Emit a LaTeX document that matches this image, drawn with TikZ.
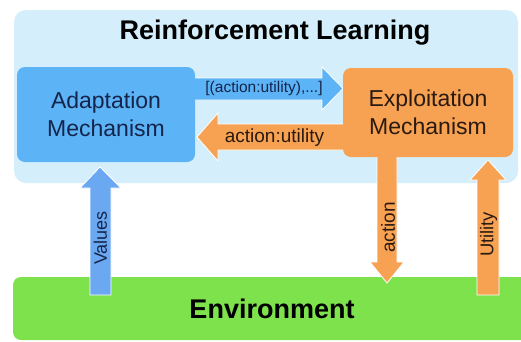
\documentclass[tikz,border=0pt]{standalone}
\usepackage{fontspec}
\setmainfont{Liberation Sans}
\usetikzlibrary{calc}
\definecolor{rlbg}{HTML}{D4EFFB}
\definecolor{adblue}{HTML}{5CB3F6}
\definecolor{valblue}{HTML}{6AA8F2}
\definecolor{exorange}{HTML}{F7A152}
\definecolor{envgreen}{HTML}{7DE24C}
\definecolor{navy}{HTML}{15244A}
\definecolor{darktxt}{HTML}{2A1A10}
\tikzset{
  box/.style={rounded corners=8pt, inner sep=0pt, align=center},
  blockarrow/.style={draw=white, line width=0.8pt, line join=miter},
  lbl/.style={inner sep=0pt},
}
\begin{document}
\begin{tikzpicture}[x=1pt,y=-1pt]
\useasboundingbox (0,0) rectangle (521,341);
\clip (0,0) rectangle (521,341);
\fill[white] (0,0) rectangle (521,341);
% Reinforcement learning background
\node[box, rounded corners=12pt, fill=rlbg, minimum width=504pt, minimum height=173pt] (rl) at (266,96.5) {};
\node[lbl, font=\fontsize{27}{30}\selectfont\bfseries, text=black] (title) at (275,33) {Reinforcement Learning};
% Environment
\node[box, fill=envgreen, minimum width=517pt, minimum height=63pt] (env) at (271.5,308.5) {};
\node[lbl, font=\fontsize{27}{30}\selectfont\bfseries, text=black] (envt) at (272,309) {Environment};
% Values arrow (up, to adaptation)
\draw[blockarrow, fill=valblue] (90,295) -- (90,188) -- (80,188) -- (100,167) -- (121,188) -- (111,188) -- (111,295) -- cycle;
\node[lbl, rotate=90, font=\fontsize{18}{20}\selectfont, text=navy] (values) at (100.5,238) {Values};
% Blue right arrow
\draw[blockarrow, fill=adblue] (190,78) -- (322,78) -- (322,67) -- (343,88.5) -- (322,110) -- (322,100) -- (190,100) -- cycle;
% Orange left arrow
\draw[blockarrow, fill=exorange] (350,124) -- (218,124) -- (218,113) -- (197,137) -- (218,161) -- (218,150) -- (350,150) -- cycle;
% action arrow (down)
\draw[blockarrow, fill=exorange] (377,150) -- (377,262) -- (370,262) -- (387,283) -- (404,262) -- (397,262) -- (397,150) -- cycle;
% Utility arrow (up)
\draw[blockarrow, fill=exorange] (477,295) -- (477,180) -- (470,180) -- (488,160) -- (506,180) -- (499,180) -- (499,295) -- cycle;
% Adaptation box
\node[box, fill=adblue, minimum width=178pt, minimum height=95pt, font=\fontsize{23}{28}\selectfont, text=navy] (adapt) at (106,114.5) {Adaptation\\Mechanism};
% Exploitation box
\node[box, fill=exorange, minimum width=170pt, minimum height=89pt, font=\fontsize{23}{28}\selectfont, text=darktxt] (exploit) at (428,112.5) {Exploitation\\Mechanism};
% arrow labels
\node[lbl, font=\fontsize{15.5}{18}\selectfont, text=navy] (list) at (264,88) {[(action:utility),...]};
\node[lbl, font=\fontsize{19}{22}\selectfont, text=darktxt] (au) at (274.5,137.5) {action:utility};
\node[lbl, rotate=90, font=\fontsize{19}{22}\selectfont, text=darktxt] (act) at (388,227.5) {action};
\node[lbl, rotate=90, font=\fontsize{18.4}{22}\selectfont, text=darktxt] (util) at (488.5,234.5) {Utility};
\end{tikzpicture}
\end{document}
